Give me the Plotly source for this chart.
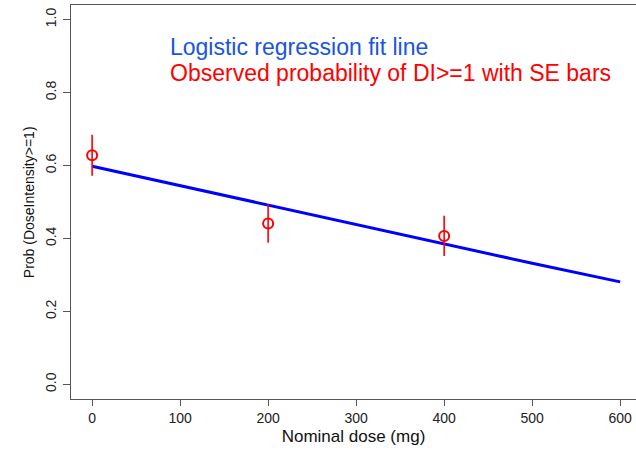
import plotly.graph_objects as go

# Observed probability of DI>=1 by nominal dose, with standard errors
dose_obs = [0, 200, 400]
prob_obs = [0.628, 0.441, 0.407]
prob_se = [0.056, 0.053, 0.055]

# Logistic regression fit line evaluated across the dose range
dose_fit = [0, 100, 200, 300, 400, 500, 600]
prob_fit = [0.598, 0.545, 0.491, 0.437, 0.384, 0.332, 0.281]

x_ticks = [0, 100, 200, 300, 400, 500, 600]
y_ticks = [0.0, 0.2, 0.4, 0.6, 0.8, 1.0]
y_tick_text = ["0.0", "0.2", "0.4", "0.6", "0.8", "1.0"]

FONT = "Liberation Sans, Arial, Helvetica, sans-serif"
AXIS_COLOR = "#555555"

fig = go.Figure()

fig.add_trace(go.Scatter(
    x=dose_fit, y=prob_fit, mode="lines",
    line=dict(color="#0000ff", width=3),
    showlegend=False, hoverinfo="skip",
))

fig.add_trace(go.Scatter(
    x=dose_obs, y=prob_obs, mode="markers",
    marker=dict(symbol="circle-open", size=10, color="#ff0000",
                line=dict(color="#ff0000", width=2)),
    error_y=dict(type="data", array=prob_se, visible=True,
                 color="#ff0000", thickness=1.6, width=0),
    showlegend=False,
))

fig.add_annotation(
    x=86, y=0.924, xref="x", yref="y",
    text="Logistic regression fit line", showarrow=False,
    xanchor="left", yanchor="middle",
    font=dict(family=FONT, size=23, color="#1a55e0"),
)
fig.add_annotation(
    x=86, y=0.853, xref="x", yref="y",
    text="Observed probability of DI>=1 with SE bars", showarrow=False,
    xanchor="left", yanchor="middle",
    font=dict(family=FONT, size=23, color="#ff0000"),
)

# y-axis title placed beside the rotated tick labels
fig.add_annotation(
    x=-0.074, y=0.5, xref="paper", yref="paper",
    text="Prob (DoseIntensity>=1)", textangle=-90, showarrow=False,
    xanchor="center", yanchor="middle",
    font=dict(family=FONT, size=14, color="#111111"),
)

fig.update_layout(
    width=636, height=452,
    margin=dict(l=71, r=0, t=5, b=53),
    paper_bgcolor="white", plot_bgcolor="white",
    font=dict(family=FONT, color="#222222"),
)

fig.update_xaxes(
    range=[-24, 618],
    tickvals=x_ticks, ticks="outside", ticklen=6, tickwidth=1,
    tickcolor=AXIS_COLOR, tickfont=dict(size=14, color="#222222"),
    showline=True, linecolor=AXIS_COLOR, linewidth=1.3, mirror=True,
    showgrid=False, zeroline=False,
    title=dict(text="Nominal dose (mg)", font=dict(size=17, color="#111111"), standoff=5),
)

fig.update_yaxes(
    range=[-0.04, 1.04],
    tickvals=y_ticks, ticktext=y_tick_text, tickangle=-90,
    ticks="outside", ticklen=7, tickwidth=1, ticklabelstandoff=1,
    tickcolor=AXIS_COLOR, tickfont=dict(size=14, color="#222222"),
    showline=True, linecolor=AXIS_COLOR, linewidth=1.3, mirror=False,
    showgrid=False, zeroline=False,
)

fig.write_html("out.html")
